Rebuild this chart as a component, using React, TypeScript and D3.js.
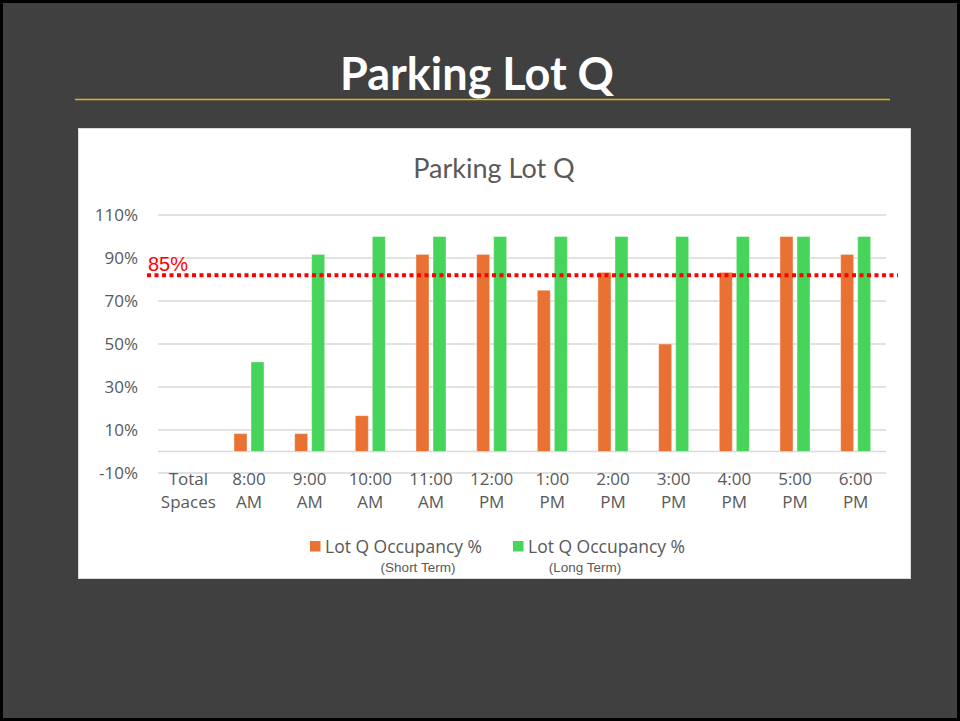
import React from "react"
import { scaleBand, scaleLinear } from "d3"

const width = 960
const height = 721

const categories = [
  "Total Spaces", "8:00 AM", "9:00 AM", "10:00 AM", "11:00 AM", "12:00 PM",
  "1:00 PM", "2:00 PM", "3:00 PM", "4:00 PM", "5:00 PM", "6:00 PM",
]
const shortTerm = [null, 8.33, 8.33, 16.67, 91.67, 91.67, 75, 83.33, 50, 83.33, 100, 91.67]
const longTerm = [null, 41.67, 91.67, 100, 100, 100, 100, 100, 100, 100, 100, 100]
const yTicks = [-10, 10, 30, 50, 70, 90, 110]
const targetLine = 82
const targetLabel = "85%"

const seriesKeys = ["short", "long"]
const seriesColors = { short: "#E97132", long: "#47D45A" }
const seriesNames = ["Lot Q Occupancy %", "Lot Q Occupancy %"]
const seriesNotes = ["(Short Term)", "(Long Term)"]

const axisFont = "'Open Sans', 'Liberation Sans', sans-serif"
const textGrey = "#595959"

function App() {
  const plot = { left: 158, right: 886, top: 215, bottom: 473 }

  const xScale = scaleBand()
    .domain(categories)
    .range([plot.left, plot.right])
    .padding(0)

  const xInner = scaleBand()
    .domain(seriesKeys)
    .range([0, xScale.bandwidth()])
    .paddingInner(0.235)
    .paddingOuter(0.9)

  const yScale = scaleLinear()
    .domain([-10, 110])
    .range([plot.bottom, plot.top])

  const rows = categories.map((c, i) => ({ cat: c, short: shortTerm[i], long: longTerm[i] }))

  return (
    <svg width={width} height={height} style={{ position: "absolute", left: 0, top: 0 }}>
      <rect x={0} y={0} width={width} height={height} fill="#000" />
      <rect x={3} y={3} width={width - 6} height={height - 6} fill="#404040" />

      <text x={477} y={90} textAnchor="middle" fill="#fff"
        style={{ fontFamily: "Lato, 'Open Sans', sans-serif", fontWeight: 700, fontSize: 45 }}>
        Parking Lot Q
      </text>
      <line x1={75} x2={890} y1={99.5} y2={99.5} stroke="#E8B400" strokeWidth={1.5} />

      {/* chart box */}
      <rect x={78.5} y={128.5} width={832} height={450} fill="#fff" stroke="#D9D9D9" />

      <text x={494} y={178} textAnchor="middle" fill={textGrey}
        style={{ fontFamily: "Lato, 'Open Sans', sans-serif", fontSize: 27 }}>
        Parking Lot Q
      </text>

      {yTicks.map(t => (
        <g key={t}>
          <line x1={plot.left} x2={plot.right} y1={yScale(t)} y2={yScale(t)}
            stroke="#D9D9D9" strokeWidth={1.5} />
          <text x={138} y={yScale(t)} dy="0.35em" textAnchor="end" fill={textGrey}
            style={{ fontFamily: axisFont, fontSize: 17 }}>
            {t}%
          </text>
        </g>
      ))}
      <line x1={plot.left} x2={plot.right} y1={yScale(0)} y2={yScale(0)}
        stroke="#D9D9D9" strokeWidth={1.5} />

      {rows.map(d => (
        <g key={d.cat} transform={`translate(${xScale(d.cat)}, 0)`}>
          {seriesKeys.map(k => d[k] == null ? null : (
            <rect key={k}
              x={xInner(k)}
              y={yScale(d[k])}
              width={xInner.bandwidth()}
              height={yScale(0) - yScale(d[k])}
              fill={seriesColors[k]}
              stroke="#fff"
              strokeOpacity={0.4}
              strokeWidth={1}
            />
          ))}
          {d.cat.split(" ").map((line, j) => (
            <text key={j} x={xScale.bandwidth() / 2} y={485 + j * 23} textAnchor="middle"
              fill={textGrey} style={{ fontFamily: axisFont, fontSize: 17 }}>
              {line}
            </text>
          ))}
        </g>
      ))}

      <line x1={147} x2={898} y1={yScale(targetLine)} y2={yScale(targetLine)}
        stroke="#FF0000" strokeWidth={4} strokeDasharray="4 3.5" />
      <text x={148} y={271} fill="#FF0000"
        style={{ fontFamily: "'Liberation Sans', Arial, sans-serif", fontSize: 20 }}>
        {targetLabel}
      </text>

      {seriesKeys.map((k, i) => {
        const x0 = i === 0 ? 310 : 513
        return (
          <g key={k}>
            <rect x={x0} y={541} width={10.5} height={10.5} fill={seriesColors[k]} />
            <text x={x0 + 15} y={553} fill={textGrey}
              style={{ fontFamily: axisFont, fontSize: 17.5 }}>
              {seriesNames[i]}
            </text>
            <text x={x0 + (i === 0 ? 108 : 72)} y={572} textAnchor="middle" fill={textGrey}
              style={{ fontFamily: "'Liberation Sans Narrow', 'Liberation Sans', sans-serif", fontSize: 13.5 }}>
              {seriesNotes[i]}
            </text>
          </g>
        )
      })}
    </svg>
  )
}

export default App
